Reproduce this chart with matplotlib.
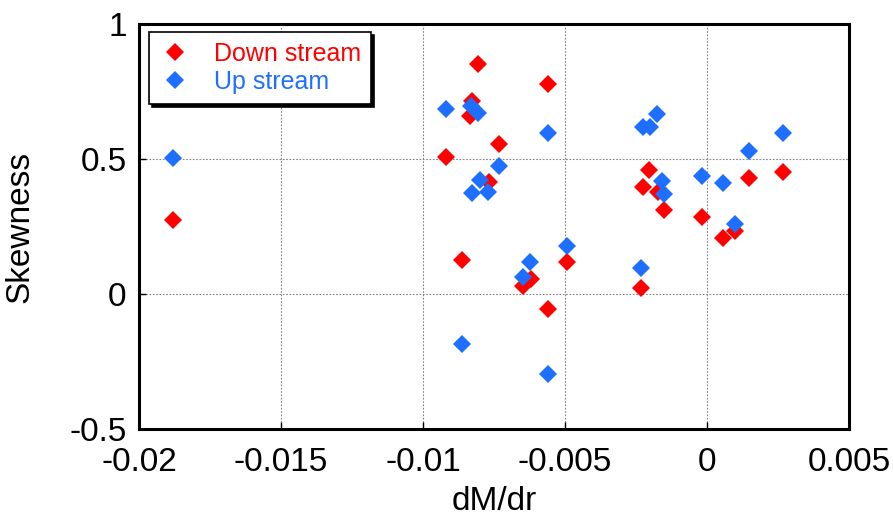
import matplotlib.pyplot as plt

# dM/dr and skewness for the downstream probe
down_x = [-0.0188, -0.00805, -0.00559, -0.00829, -0.00835, -0.00732, -0.00920,
          -0.00768, -0.00204, 0.00269, 0.00149, -0.00224, -0.00172, -0.00150,
          -0.00019, 0.00099, 0.000575, -0.00234, -0.00862, -0.00620, -0.00649,
          -0.00494, -0.00560]
down_y = [0.274, 0.851, 0.778, 0.715, 0.659, 0.554, 0.509,
          0.414, 0.459, 0.451, 0.428, 0.395, 0.379, 0.312,
          0.286, 0.233, 0.206, 0.021, 0.126, 0.056, 0.030,
          0.120, -0.056]

# dM/dr and skewness for the upstream probe
up_x = [-0.0188, -0.00920, -0.00831, -0.00805, -0.00559, -0.00732, -0.00800,
        -0.00826, -0.00770, -0.00175, -0.00224, -0.00201, 0.00269, 0.00149,
        -0.00019, 0.000575, -0.00160, -0.00150, 0.00099, -0.00234, -0.00622,
        -0.00649, -0.00494, -0.00862, -0.00560]
up_y = [0.504, 0.684, 0.696, 0.669, 0.595, 0.475, 0.422,
        0.373, 0.379, 0.667, 0.620, 0.620, 0.595, 0.531,
        0.438, 0.412, 0.419, 0.370, 0.258, 0.095, 0.117,
        0.062, 0.179, -0.186, -0.297]

x_ticks = [-0.02, -0.015, -0.01, -0.005, 0, 0.005]
x_tick_labels = ['-0.02', '-0.015', '-0.01', '-0.005', '0', '0.005']
y_ticks = [-0.5, 0, 0.5, 1]
y_tick_labels = ['-0.5', '0', '0.5', '1']

red = '#FF0000'
blue = '#1F6FFF'

plt.rcParams['font.family'] = ['Liberation Sans', 'DejaVu Sans']

fig = plt.figure(figsize=(8.93, 5.17), dpi=100)
ax = fig.add_axes([0.1557, 0.1702, 0.7950, 0.7834])

ax.plot(down_x, down_y, 'D', color=red, markersize=9.5, markeredgewidth=0,
        label='Down stream', zorder=3)
ax.plot(up_x, up_y, 'D', color=blue, markersize=9.5, markeredgewidth=0,
        label='Up stream', zorder=4)

ax.set_xlim(-0.02, 0.005)
ax.set_ylim(-0.5, 1)
ax.set_xticks(x_ticks)
ax.set_xticklabels(x_tick_labels)
ax.set_yticks(y_ticks)
ax.set_yticklabels(y_tick_labels)
ax.tick_params(direction='in', length=5, width=1, labelsize=24)
ax.tick_params(axis='x', pad=13)
ax.tick_params(axis='y', pad=9)

ax.grid(True, color='#808080', linestyle=(0, (1.5, 1.5)), linewidth=0.8)
ax.set_axisbelow(True)
for spine in ax.spines.values():
    spine.set_linewidth(2.2)

ax.set_xlabel('dM/dr', fontsize=24, labelpad=6)
ax.set_ylabel('Skewness', fontsize=24, labelpad=24)

leg = ax.legend(loc='upper left', bbox_to_anchor=(0.014, 0.980), fontsize=18,
                frameon=True, fancybox=False, shadow={'color': 'black', 'alpha': 1},
                edgecolor='black', framealpha=1, borderpad=0.4,
                handletextpad=0.9, labelspacing=0.15, handlelength=1.3,
                borderaxespad=0)
leg.get_frame().set_linewidth(1.2)
leg.get_texts()[0].set_color(red)
leg.get_texts()[1].set_color(blue)

fig.savefig('out.png', dpi=100)
